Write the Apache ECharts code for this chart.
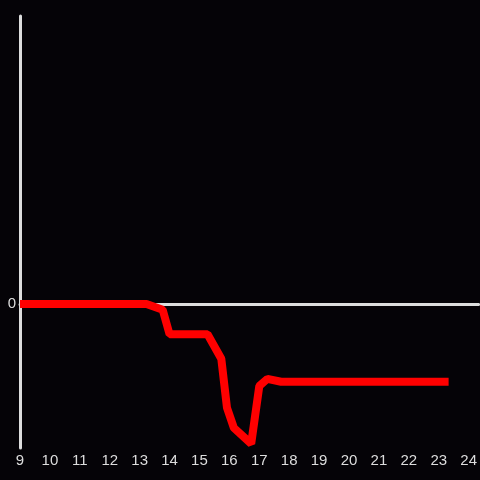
<!DOCTYPE html>
<html>
<head>
<meta charset="utf-8">
<script src="https://cdn.jsdelivr.net/npm/echarts@6/dist/echarts.min.js"></script>
<style>
    *{margin:0;padding:0;}
    body{background:#050307;}
    #main{width:480px;height:480px;}
</style>
</head>
<body>
<div id="main"></div>
<script type="text/javascript">
    var hours = [9, 13.23, 13.77, 14.0, 15.27, 15.73, 15.92, 16.15, 16.73, 17.0, 17.27, 17.73, 23.33];
    var values = [0, 0, -0.04, -0.21, -0.21, -0.38, -0.72, -0.86, -0.97, -0.57, -0.52, -0.54, -0.54];
    var xTicks = [9, 10, 11, 12, 13, 14, 15, 16, 17, 18, 19, 20, 21, 22, 23, 24];

    var points = [];
    for (var i = 0; i < hours.length; i++) {
        points.push([hours[i], values[i]]);
    }

    var myChart = echarts.init(document.getElementById('main'));
    var option = {
        backgroundColor: '#050307',
        animation: false,
        grid: {left: 20, right: 0, top: 16, bottom: 32},
        xAxis: [{
            type: 'value',
            min: 9,
            max: 24.33,
            interval: 1,
            axisLine: {show: false, onZero: false},
            axisTick: {show: false},
            splitLine: {show: false},
            axisLabel: {
                color: '#dddddd',
                fontSize: 15,
                margin: 5,
                customValues: xTicks
            }
        }, {
            type: 'value',
            min: 9,
            max: 24.33,
            position: 'bottom',
            axisLine: {show: true, onZero: true, lineStyle: {color: '#dddddd', width: 3}},
            axisTick: {show: false},
            splitLine: {show: false},
            axisLabel: {show: false}
        }],
        yAxis: {
            type: 'value',
            min: -1,
            max: 2,
            interval: 1,
            axisLine: {show: true, lineStyle: {color: '#dddddd', width: 3}},
            axisTick: {show: false},
            splitLine: {show: false},
            axisLabel: {
                color: '#dddddd',
                fontSize: 15,
                margin: 4,
                formatter: function (v) { return v === 0 ? '0' : ''; }
            }
        },
        series: [{
            type: 'line',
            data: points,
            showSymbol: false,
            lineStyle: {color: '#ff0000', width: 8},
            z: 5
        }]
    };
    myChart.setOption(option);
</script>
</body>
</html>
